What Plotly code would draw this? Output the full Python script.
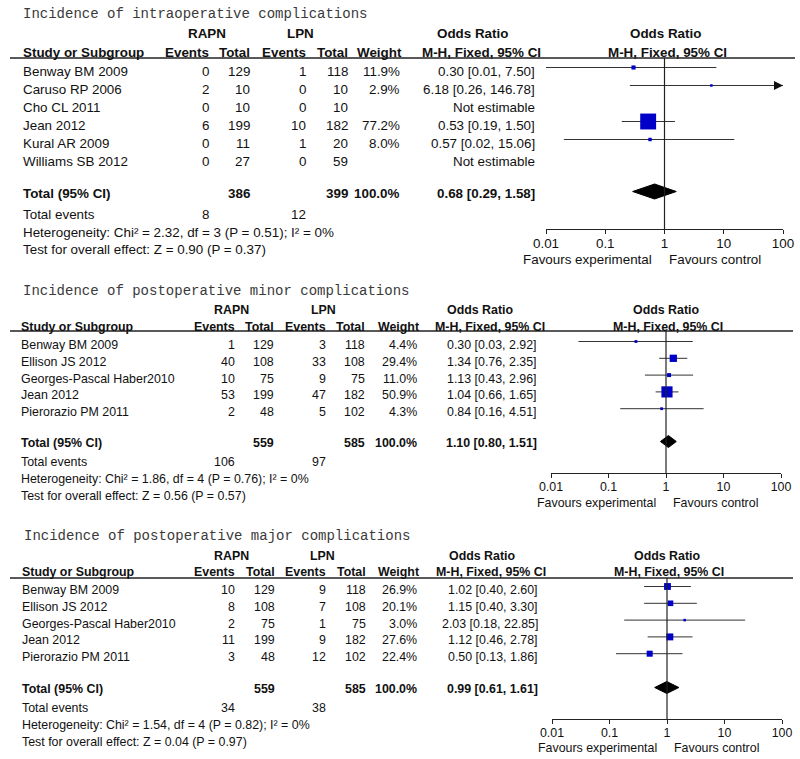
import plotly.graph_objects as go

# ---------------- DATA ----------------
titles = ["Incidence of intraoperative complications",
          "Incidence of postoperative minor complications",
          "Incidence of postoperative major complications"]

studies1 = ["Benway BM 2009", "Caruso RP 2006", "Cho CL 2011", "Jean 2012", "Kural AR 2009", "Williams SB 2012"]
rapn_events1 = [0, 2, 0, 6, 0, 0]
rapn_total1 = [129, 10, 10, 199, 11, 27]
lpn_events1 = [1, 0, 0, 10, 1, 0]
lpn_total1 = [118, 10, 10, 182, 20, 59]
weight1 = [11.9, 2.9, None, 77.2, 8.0, None]
or1 = [0.30, 6.18, None, 0.53, 0.57, None]
lo1 = [0.01, 0.26, None, 0.19, 0.02, None]
hi1 = [7.50, 146.78, None, 1.50, 15.06, None]
tot1 = dict(rt=386, lt=399, w=100.0, est=0.68, lo=0.29, hi=1.58, re=8, le=12,
            het="Heterogeneity: Chi² = 2.32, df = 3 (P = 0.51); I² = 0%",
            test="Test for overall effect: Z = 0.90 (P = 0.37)")

studies2 = ["Benway BM 2009", "Ellison JS 2012", "Georges-Pascal Haber2010", "Jean 2012", "Pierorazio PM 2011"]
rapn_events2 = [1, 40, 10, 53, 2]
rapn_total2 = [129, 108, 75, 199, 48]
lpn_events2 = [3, 33, 9, 47, 5]
lpn_total2 = [118, 108, 75, 182, 102]
weight2 = [4.4, 29.4, 11.0, 50.9, 4.3]
or2 = [0.30, 1.34, 1.13, 1.04, 0.84]
lo2 = [0.03, 0.76, 0.43, 0.66, 0.16]
hi2 = [2.92, 2.35, 2.96, 1.65, 4.51]
tot2 = dict(rt=559, lt=585, w=100.0, est=1.10, lo=0.80, hi=1.51, re=106, le=97,
            het="Heterogeneity: Chi² = 1.86, df = 4 (P = 0.76); I² = 0%",
            test="Test for overall effect: Z = 0.56 (P = 0.57)")

studies3 = ["Benway BM 2009", "Ellison JS 2012", "Georges-Pascal Haber2010", "Jean 2012", "Pierorazio PM 2011"]
rapn_events3 = [10, 8, 2, 11, 3]
rapn_total3 = [129, 108, 75, 199, 48]
lpn_events3 = [9, 7, 1, 9, 12]
lpn_total3 = [118, 108, 75, 182, 102]
weight3 = [26.9, 20.1, 3.0, 27.6, 22.4]
or3 = [1.02, 1.15, 2.03, 1.12, 0.50]
lo3 = [0.40, 0.40, 0.18, 0.46, 0.13]
hi3 = [2.60, 3.30, 22.85, 2.78, 1.86]
tot3 = dict(rt=559, lt=585, w=100.0, est=0.99, lo=0.61, hi=1.61, re=34, le=38,
            het="Heterogeneity: Chi² = 1.54, df = 4 (P = 0.82); I² = 0%",
            test="Test for overall effect: Z = 0.04 (P = 0.97)")

tick_vals = [0.01, 0.1, 1, 10, 100]
tick_text = ["0.01", "0.1", "1", "10", "100"]
null_value = 1

# ---------------- LAYOUT CONSTANTS ----------------
W, H = 800, 759
SANS = "Liberation Sans, Arial, sans-serif"
MONO = "Liberation Mono, Courier New, monospace"
TXT = "#111111"
BLUE = "#0000C8"
LINE = "#222222"

panels = [
    dict(data=(studies1, rapn_events1, rapn_total1, lpn_events1, lpn_total1, weight1, or1, lo1, hi1), tot=tot1,
         title_y=14, group_y=33, head_y=52, line_y=58, row_y0=71, row_dy=18, total_y=193, events_y=214,
         het_y=232, test_y=249, axis_y=229, fav_y=258, fs=13.4, x_title=22, x_study=22, x_re=210, x_rt=251,
         x_le=307, x_lt=349, x_w=401, x_ci=536, x_cihead=542, x_orhead=472, x_rapn=207, x_lpn=300,
         px0=546, px1=783, x_plothead=665, line_x0=10, line_x1=795, fav_l=653, fav_r=668, dh=7.5),
    dict(data=(studies2, rapn_events2, rapn_total2, lpn_events2, lpn_total2, weight2, or2, lo2, hi2), tot=tot2,
         title_y=291, group_y=310, head_y=327, line_y=331, row_y0=345, row_dy=16.8, total_y=443, events_y=462,
         het_y=479, test_y=496, axis_y=473, fav_y=502, fs=12.4, x_title=22, x_study=20, x_re=236, x_rt=275,
         x_le=327, x_lt=366, x_w=418, x_ci=538, x_cihead=546, x_orhead=480, x_rapn=231, x_lpn=323,
         px0=551, px1=781, x_plothead=666, line_x0=10, line_x1=793, fav_l=657, fav_r=672, dh=6),
    dict(data=(studies3, rapn_events3, rapn_total3, lpn_events3, lpn_total3, weight3, or3, lo3, hi3), tot=tot3,
         title_y=536, group_y=556, head_y=572, line_y=578, row_y0=590, row_dy=16.8, total_y=689, events_y=708,
         het_y=725, test_y=742, axis_y=719, fav_y=747, fs=12.4, x_title=23, x_study=21, x_re=236, x_rt=276,
         x_le=327, x_lt=367, x_w=418, x_ci=539, x_cihead=547, x_orhead=482, x_rapn=231, x_lpn=322,
         px0=552, px1=782, x_plothead=667, line_x0=10, line_x1=793, fav_l=658, fav_r=673, dh=6),
]

fig = go.Figure()
annotations = []
shapes = []


def txt(x, y, s, anchor="left", size=13, bold=False, family=SANS, color=TXT):
    annotations.append(dict(
        x=x, y=y, xref="x", yref="y", text=f"<b>{s}</b>" if bold else s, showarrow=False,
        xanchor=anchor, yanchor="middle", font=dict(family=family, size=size, color=color),
        borderpad=0))


layout_axes = {}
for i, p in enumerate(panels):
    ax_name = f"xaxis{i + 2}"
    ax_ref = f"x{i + 2}"
    studies, re_, rt_, le_, lt_, w_, or_, lo_, hi_ = p["data"]
    t = p["tot"]
    fs = p["fs"]

    # title and headers
    txt(p["x_title"], p["title_y"], titles[i], size=14, family=MONO, color="#3a3a3a")
    txt(p["x_rapn"], p["group_y"], "RAPN", "center", fs, True)
    txt(p["x_lpn"], p["group_y"], "LPN", "center", fs, True)
    txt(p["x_orhead"], p["group_y"], "Odds Ratio", "center", fs, True)
    txt(p["x_plothead"], p["group_y"], "Odds Ratio", "center", fs, True)
    txt(p["x_study"], p["head_y"], "Study or Subgroup", "left", fs, True)
    txt(p["x_re"], p["head_y"], "Events", "right", fs, True)
    txt(p["x_rt"], p["head_y"], "Total", "right", fs, True)
    txt(p["x_le"], p["head_y"], "Events", "right", fs, True)
    txt(p["x_lt"], p["head_y"], "Total", "right", fs, True)
    txt(p["x_w"] + 2, p["head_y"], "Weight", "right", fs, True)
    txt(p["x_cihead"], p["head_y"], "M-H, Fixed, 95% CI", "right", fs, True)
    txt(p["x_plothead"] + 2, p["head_y"], "M-H, Fixed, 95% CI", "center", fs, True)
    shapes.append(dict(type="line", xref="x", yref="y", x0=p["line_x0"], x1=p["line_x1"],
                       y0=p["line_y"], y1=p["line_y"], line=dict(color=LINE, width=1.3)))

    # rows
    xmax = 10 ** 2
    for j, name in enumerate(studies):
        y = p["row_y0"] + j * p["row_dy"]
        txt(p["x_study"], y, name, "left", fs)
        txt(p["x_re"], y, str(re_[j]), "right", fs)
        txt(p["x_rt"], y, str(rt_[j]), "right", fs)
        txt(p["x_le"], y, str(le_[j]), "right", fs)
        txt(p["x_lt"], y, str(lt_[j]), "right", fs)
        if or_[j] is None:
            txt(p["x_ci"], y, "Not estimable", "right", fs)
            continue
        txt(p["x_w"], y, f"{w_[j]:.1f}%", "right", fs)
        txt(p["x_ci"], y, f"{or_[j]:.2f} [{lo_[j]:.2f}, {hi_[j]:.2f}]", "right", fs)
        ym = y - 3.5
        hi_draw = min(hi_[j], xmax)
        fig.add_trace(go.Scatter(x=[lo_[j], hi_draw], y=[ym, ym], mode="lines", xaxis=ax_ref, yaxis="y",
                                 line=dict(color="#333333", width=1), showlegend=False, hoverinfo="skip"))
        if hi_[j] > xmax:
            fig.add_trace(go.Scatter(x=[xmax], y=[ym], mode="markers", xaxis=ax_ref, yaxis="y",
                                     marker=dict(symbol="arrow-right", size=9, color="#111111"),
                                     cliponaxis=False, showlegend=False, hoverinfo="skip"))
        fig.add_trace(go.Scatter(x=[or_[j]], y=[ym], mode="markers", xaxis=ax_ref, yaxis="y",
                                 marker=dict(symbol="square", size=2 + 0.18 * w_[j], color=BLUE,
                                             line=dict(width=0)),
                                 cliponaxis=False, showlegend=False, hoverinfo="skip"))

    # totals
    txt(p["x_study"], p["total_y"], "Total (95% CI)", "left", fs, True)
    txt(p["x_rt"], p["total_y"], str(t["rt"]), "right", fs, True)
    txt(p["x_lt"], p["total_y"], str(t["lt"]), "right", fs, True)
    txt(p["x_w"], p["total_y"], f"{t['w']:.1f}%", "right", fs, True)
    txt(p["x_ci"], p["total_y"], f"{t['est']:.2f} [{t['lo']:.2f}, {t['hi']:.2f}]", "right", fs, True)
    txt(p["x_study"], p["events_y"], "Total events", "left", fs)
    txt(p["x_re"], p["events_y"], str(t["re"]), "right", fs)
    txt(p["x_le"], p["events_y"], str(t["le"]), "right", fs)
    txt(p["x_study"], p["het_y"], t["het"], "left", fs)
    txt(p["x_study"], p["test_y"], t["test"], "left", fs)

    yd = p["total_y"] - 1.5
    dh = p["dh"]
    fig.add_trace(go.Scatter(x=[t["lo"], t["est"], t["hi"], t["est"], t["lo"]],
                             y=[yd, yd - dh, yd, yd + dh, yd], mode="lines", fill="toself",
                             fillcolor="#000000", line=dict(color="#000000", width=1),
                             xaxis=ax_ref, yaxis="y", showlegend=False, hoverinfo="skip"))

    # null line
    fig.add_trace(go.Scatter(x=[null_value, null_value], y=[p["line_y"], p["axis_y"]], mode="lines",
                             xaxis=ax_ref, yaxis="y", line=dict(color=LINE, width=1.2),
                             showlegend=False, hoverinfo="skip"))

    txt(p["fav_l"], p["fav_y"] + 1, "Favours experimental", "right", fs)
    txt(p["fav_r"], p["fav_y"] + 1, "Favours control", "left", fs)

    layout_axes[ax_name] = dict(
        type="log", range=[-2, 2], domain=[p["px0"] / W, p["px1"] / W], anchor="free",
        position=1 - p["axis_y"] / H, showline=True, linecolor=LINE, linewidth=1.2,
        ticks="outside", ticklen=4, tickwidth=1.2, tickcolor=LINE, automargin=False,
        ticklabelstandoff=-2,
        tickvals=tick_vals, ticktext=tick_text, showgrid=False, zeroline=False,
        tickfont=dict(family=SANS, size=fs, color=TXT), fixedrange=True)

fig.update_layout(
    template="none",
    width=W, height=H, margin=dict(l=0, r=0, t=0, b=0, pad=0, autoexpand=False),
    paper_bgcolor="white", plot_bgcolor="rgba(0,0,0,0)",
    xaxis=dict(range=[0, W], domain=[0, 1], visible=False, fixedrange=True, automargin=False),
    yaxis=dict(range=[H, 0], domain=[0, 1], visible=False, fixedrange=True, automargin=False),
    annotations=annotations, shapes=shapes, showlegend=False,
    **layout_axes,
)

fig.write_html("out.html", config={"displayModeBar": False},
               post_script="document.body.style.margin='0';document.body.style.overflow='hidden';")
